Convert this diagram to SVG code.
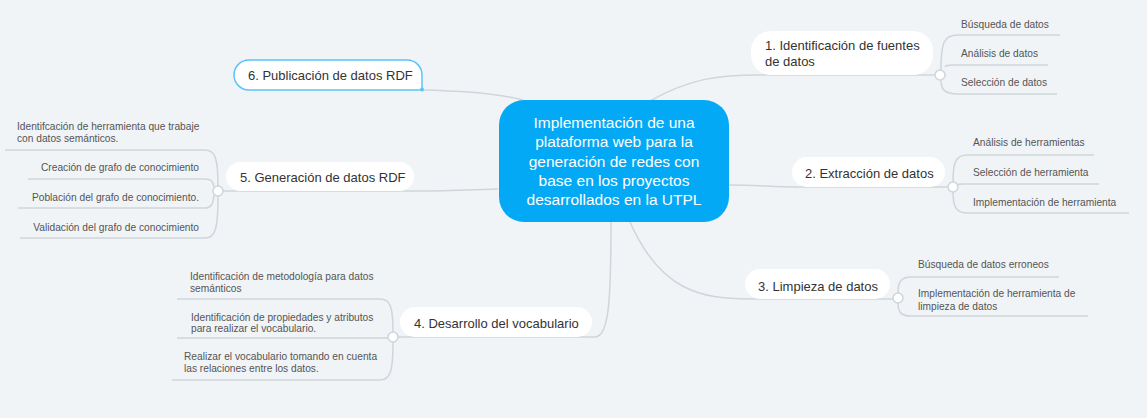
<svg xmlns="http://www.w3.org/2000/svg" width="1147" height="418" viewBox="0 0 1147 418">
<style>
.bg{fill:#f0f4f7}
.c{fill:none;stroke:#cfd5da;stroke-width:1.5}
.dot{fill:#ffffff;stroke:#cfd5da;stroke-width:1.5}
.pill{fill:#ffffff}
.t{font-family:"Liberation Sans",Arial,sans-serif;font-size:13px;fill:#333333}
.s{font-family:"Liberation Sans",Arial,sans-serif;font-size:10.2px;fill:#555555}
.ct{font-family:"Liberation Sans",Arial,sans-serif;font-size:15.5px;fill:#ffffff;text-anchor:middle}
.e{text-anchor:end}
</style>
<rect class="bg" x="0" y="0" width="1147" height="418"/>
<g id="connectors">
  <path class="c" d="M650,101 C690,78 720,75 760,75 L935,75"/>
  <path class="c" d="M941,70 C941,42 944,35 958,35 L1060,35"/>
  <path class="c" d="M945,67 C946,65 948,65 952,65 L1048,65"/>
  <path class="c" d="M941,80 C941,89 944,94 958,94 L1057,94"/>
  <path class="c" d="M728,185 C760,185 770,187 800,187 L948,187"/>
  <path class="c" d="M953,182 C953,161 956,155 968,155 L1094,155"/>
  <path class="c" d="M957,185 C958,184 960,184 964,184 L1099,184"/>
  <path class="c" d="M953,192 C953,207 956,213 968,213 L1129,213"/>
  <path class="c" d="M630,222 C660,290 700,299 750,299 L893,299"/>
  <path class="c" d="M898,293 C898,282 901,277 911,277 L1059,277"/>
  <path class="c" d="M898,303 C898,312 901,316 911,316 L1088,316"/>
  <path class="c" d="M611,221 C611,300 609,337 595,337 L398,337"/>
  <path class="c" d="M393,332 C393,306 390,299 380,299 L177,299"/>
  <path class="c" d="M388,338 L177,338"/>
  <path class="c" d="M393,342 C393,372 390,380 380,380 L172,380"/>
  <path class="c" d="M498,189 C460,190 440,191 414,191 L223,191"/>
  <path class="c" d="M218,186 C218,158 215,150 205,150 L5,150"/>
  <path class="c" d="M214,187 C213,181 211,179 205,179 L28,179"/>
  <path class="c" d="M214,195 C213,205 211,208 205,208 L18,208"/>
  <path class="c" d="M218,196 C218,230 215,238 205,238 L20,238"/>
  <path class="c" d="M422,90 C470,91 500,94 523,100"/>
</g>
<g id="center">
  <rect x="499" y="100" width="230" height="122" rx="25" fill="#03a9f4"/>
  <text class="ct" x="614" y="128">Implementación de una</text>
  <text class="ct" x="614" y="147.3">plataforma web para la</text>
  <text class="ct" x="614" y="166.5">generación de redes con</text>
  <text class="ct" x="614" y="185.8">base en los proyectos</text>
  <text class="ct" x="614" y="205">desarrollados en la UTPL</text>
</g>
<g id="n1">
  <rect class="pill" x="751" y="31" width="182" height="44" rx="20"/>
  <circle class="dot" cx="940" cy="75" r="5"/>
  <text class="t" x="765" y="50">1. Identificación de fuentes</text>
  <text class="t" x="765" y="66">de datos</text>
</g>
<g id="n1a"><text class="s" x="961" y="27.5">Búsqueda de datos</text></g>
<g id="n1b"><text class="s" x="961" y="56.5">Análisis de datos</text></g>
<g id="n1c"><text class="s" x="961" y="85.5">Selección de datos</text></g>
<g id="n2">
  <rect class="pill" x="792" y="157" width="153" height="30" rx="15"/>
  <circle class="dot" cx="953" cy="187" r="5"/>
  <text class="t" x="805" y="177.5">2. Extracción de datos</text>
</g>
<g id="n2a"><text class="s" x="973" y="145.5">Análisis de herramientas</text></g>
<g id="n2b"><text class="s" x="973" y="175.5">Selección de herramienta</text></g>
<g id="n2c"><text class="s" x="973" y="205.5">Implementación de herramienta</text></g>
<g id="n3">
  <rect class="pill" x="745" y="269" width="145" height="30" rx="15"/>
  <circle class="dot" cx="898" cy="298" r="5"/>
  <text class="t" x="758" y="290.5">3. Limpieza de datos</text>
</g>
<g id="n3a"><text class="s" x="918" y="267.5">Búsqueda de datos erroneos</text></g>
<g id="n3b">
  <text class="s" x="918" y="296.5">Implementación de herramienta de</text>
  <text class="s" x="918" y="309.5">limpieza de datos</text>
</g>
<g id="n4">
  <rect class="pill" x="400" y="307" width="192" height="30" rx="15"/>
  <circle class="dot" cx="393" cy="337" r="5"/>
  <text class="t" x="414" y="327.5">4. Desarrollo del vocabulario</text>
</g>
<g id="n4a">
  <text class="s" x="190" y="279.5">Identificación de metodología para datos</text>
  <text class="s" x="190" y="291.5">semánticos</text>
</g>
<g id="n4b">
  <text class="s" x="191" y="320.5">Identificación de propiedades y atributos</text>
  <text class="s" x="191" y="331.5">para realizar el vocabulario.</text>
</g>
<g id="n4c">
  <text class="s" x="184" y="359.5">Realizar el vocabulario tomando en cuenta</text>
  <text class="s" x="184" y="371.5">las relaciones entre los datos.</text>
</g>
<g id="n5">
  <rect class="pill" x="226" y="162" width="188" height="29" rx="14.5"/>
  <circle class="dot" cx="218" cy="191" r="5"/>
  <text class="t" x="240" y="182">5. Generación de datos RDF</text>
</g>
<g id="n5a">
  <text class="s" x="17" y="129.5">Identifcación de herramienta que trabaje</text>
  <text class="s" x="17" y="141.5">con datos semánticos.</text>
</g>
<g id="n5b"><text class="s e" x="199" y="170.5">Creación de grafo de conocimiento</text></g>
<g id="n5c"><text class="s e" x="199" y="200.5">Población del grafo de conocimiento.</text></g>
<g id="n5d"><text class="s e" x="199" y="230.5">Validación del grafo de conocimiento</text></g>
<g id="n6">
  <path d="M249,60 L407,60 A15,15 0 0 1 422,75 L422,90 L249,90 A15,15 0 0 1 234,75 A15,15 0 0 1 249,60 Z" fill="#ffffff" stroke="#5cc4f8" stroke-width="1.5"/>
  <circle cx="422" cy="89.5" r="2" fill="#5cc4f8"/>
  <text class="t" x="248" y="79.5">6. Publicación de datos RDF</text>
</g>
</svg>
